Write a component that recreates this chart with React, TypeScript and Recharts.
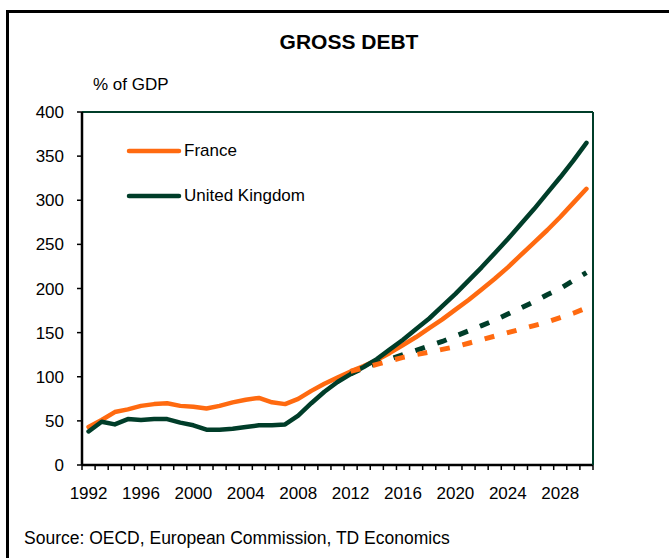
import { LineChart, Line, XAxis, YAxis, ReferenceLine } from "recharts";

const years = [
  1992, 1993, 1994, 1995, 1996, 1997, 1998, 1999, 2000, 2001, 2002, 2003, 2004,
  2005, 2006, 2007, 2008, 2009, 2010, 2011, 2012, 2013, 2014, 2015, 2016, 2017,
  2018, 2019, 2020, 2021, 2022, 2023, 2024, 2025, 2026, 2027, 2028, 2029, 2030,
];

// solid lines: history + baseline projection
const france = [
  43, 51, 60, 63, 67, 69, 70, 67, 66, 64, 67, 71, 74, 76, 71, 69, 75, 84, 92,
  99, 106, 112, 119, 127, 136, 145, 155, 165, 176, 187, 199, 211, 224, 238, 252,
  266, 281, 297, 313,
];
const uk = [
  38, 49, 46, 52, 51, 52, 52, 48, 45, 40, 40, 41, 43, 45, 45, 46, 56, 70, 83,
  94, 103, 111, 120, 131, 142, 154, 166, 180, 194, 209, 224, 240, 256, 273, 290,
  308, 326, 345, 365,
];

// dashed lines: alternative projection from 2012
const franceAlt = [
  null, null, null, null, null, null, null, null, null, null, null, null, null,
  null, null, null, null, null, null, null, 106, 110, 114, 118, 122, 125, 128,
  131, 134, 138, 142, 146, 150, 154, 158, 162, 167, 172, 178,
];
const ukAlt = [
  null, null, null, null, null, null, null, null, null, null, null, null, null,
  null, null, null, null, null, null, null, 103, 110, 115, 120, 125, 130, 135,
  140, 146, 152, 158, 164, 171, 178, 185, 193, 200, 209, 218,
];

const yTicks = [0, 50, 100, 150, 200, 250, 300, 350, 400];
const xLabels = [1992, 1996, 2000, 2004, 2008, 2012, 2016, 2020, 2024, 2028];
const xBounds = [
  1991.5, 1992.5, 1993.5, 1994.5, 1995.5, 1996.5, 1997.5, 1998.5, 1999.5,
  2000.5, 2001.5, 2002.5, 2003.5, 2004.5, 2005.5, 2006.5, 2007.5, 2008.5,
  2009.5, 2010.5, 2011.5, 2012.5, 2013.5, 2014.5, 2015.5, 2016.5, 2017.5,
  2018.5, 2019.5, 2020.5, 2021.5, 2022.5, 2023.5, 2024.5, 2025.5, 2026.5,
  2027.5, 2028.5, 2029.5, 2030.5,
];

const ORANGE = "#FF6A10";
const GREEN = "#003D29";
const FONT = '"Liberation Sans", Arial, sans-serif';

const data = years.map((year, i) => ({
  year,
  france: france[i],
  uk: uk[i],
  franceAlt: franceAlt[i],
  ukAlt: ukAlt[i],
}));

const legendItems = [
  { name: "France", color: ORANGE },
  { name: "United Kingdom", color: GREEN },
];

const tickText = { fill: "#000", fontSize: 17, fontFamily: FONT };

export default function App() {
  return (
    <div
      style={{
        position: "absolute",
        left: 0,
        top: 0,
        width: 669,
        height: 558,
        overflow: "hidden",
        background: "#fff",
        fontFamily: FONT,
        color: "#000",
      }}
    >
      <div
        style={{
          position: "absolute",
          left: 6,
          top: 10,
          width: 720,
          height: 620,
          border: "3px solid #000",
        }}
      />
      <div
        style={{
          position: "absolute",
          left: 249,
          top: 30,
          width: 200,
          textAlign: "center",
          fontSize: 21,
          lineHeight: "24px",
          fontWeight: "bold",
        }}
      >
        GROSS DEBT
      </div>
      <div style={{ position: "absolute", left: 93, top: 75, fontSize: 17, lineHeight: "20px" }}>
        % of GDP
      </div>

      <div style={{ position: "absolute", left: 0, top: 0 }}>
        <LineChart
          width={669}
          height={558}
          data={data}
          margin={{ top: 112, right: 16, bottom: 48, left: 22 }}
        >
          <XAxis
            dataKey="year"
            type="number"
            domain={[1991.5, 2030.5]}
            ticks={xBounds}
            interval={0}
            height={5}
            tickSize={5}
            tick={() => <g />}
            axisLine={{ stroke: "#000", strokeWidth: 2.5 }}
            tickLine={{ stroke: "#000", strokeWidth: 1.5 }}
          />
          <XAxis
            xAxisId="labels"
            dataKey="year"
            type="number"
            domain={[1991.5, 2030.5]}
            ticks={xLabels}
            interval={0}
            height={40}
            tickSize={0}
            tickMargin={17}
            axisLine={false}
            tickLine={false}
            tick={tickText}
          />
          <YAxis
            yAxisId="left"
            domain={[0, 400]}
            ticks={yTicks}
            interval={0}
            width={60}
            tickSize={5}
            tickMargin={13}
            axisLine={{ stroke: "#000", strokeWidth: 2.5 }}
            tickLine={{ stroke: "#000", strokeWidth: 1.5 }}
            tick={tickText}
          />
          <YAxis
            yAxisId="right"
            orientation="right"
            domain={[0, 400]}
            ticks={yTicks}
            interval={0}
            width={60}
            tickSize={5}
            tickMargin={10}
            axisLine={{ stroke: GREEN, strokeWidth: 2 }}
            tickLine={{ stroke: "#000", strokeWidth: 1.5 }}
            tick={tickText}
          />
          <ReferenceLine yAxisId="left" y={400} stroke={GREEN} strokeWidth={2} />
          <Line
            yAxisId="left"
            dataKey="france"
            type="linear"
            stroke={ORANGE}
            strokeWidth={4.5}
            dot={false}
            strokeLinecap="round"
            strokeLinejoin="round"
            isAnimationActive={false}
          />
          <Line
            yAxisId="left"
            dataKey="uk"
            type="linear"
            stroke={GREEN}
            strokeWidth={4.5}
            dot={false}
            strokeLinecap="round"
            strokeLinejoin="round"
            isAnimationActive={false}
          />
          <Line
            yAxisId="left"
            dataKey="ukAlt"
            type="linear"
            stroke={GREEN}
            strokeWidth={5}
            strokeDasharray="10 13"
            dot={false}
            isAnimationActive={false}
          />
          <Line
            yAxisId="left"
            dataKey="franceAlt"
            type="linear"
            stroke={ORANGE}
            strokeWidth={5}
            strokeDasharray="10 13"
            dot={false}
            isAnimationActive={false}
          />
        </LineChart>
      </div>

      <div style={{ position: "absolute", left: 126, top: 140 }}>
        {legendItems.map((item) => (
          <div key={item.name} style={{ display: "flex", alignItems: "center", height: 22, marginBottom: 23 }}>
            <svg width={56} height={10}>
              <line x1={3} y1={5} x2={53} y2={5} stroke={item.color} strokeWidth={4.5} strokeLinecap="round" />
            </svg>
            <span style={{ fontSize: 17, marginLeft: 2 }}>{item.name}</span>
          </div>
        ))}
      </div>

      <div style={{ position: "absolute", left: 24, top: 528, fontSize: 17.5, lineHeight: "20px" }}>
        Source: OECD, European Commission, TD Economics
      </div>
    </div>
  );
}
